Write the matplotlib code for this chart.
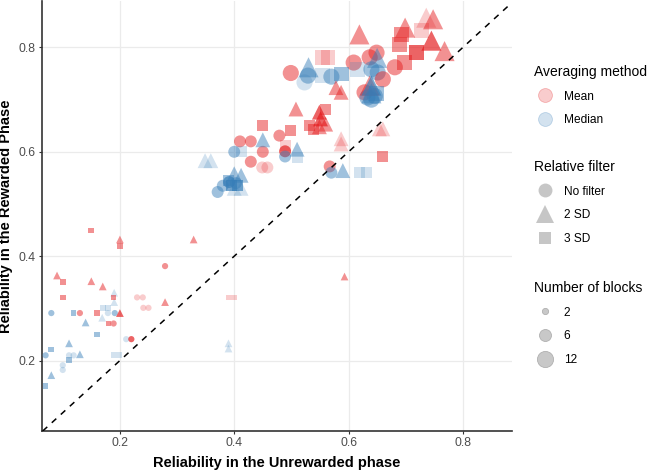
import matplotlib
matplotlib.use("Agg")
import matplotlib.pyplot as plt
from matplotlib.lines import Line2D
from matplotlib.colors import to_rgba
import numpy as np

plt.rcParams['font.family'] = ['Liberation Sans', 'DejaVu Sans']

# ---- data ----
x_unrewarded = [
    0.150, 0.200, 0.200, 0.329, 0.279, 0.090, 0.100, 0.150, 0.170, 0.100,
    0.189, 0.190, 0.190, 0.230, 0.240, 0.241, 0.250, 0.279, 0.390, 0.400,
    0.080, 0.119, 0.130, 0.160, 0.170, 0.179, 0.169, 0.179, 0.191, 0.200,
    0.180, 0.189, 0.140, 0.160, 0.211, 0.220, 0.111, 0.080, 0.070, 0.111,
    0.119, 0.130, 0.189, 0.198, 0.390, 0.390, 0.100, 0.100, 0.111, 0.080,
    0.070,
    0.349, 0.359, 0.400, 0.412, 0.410, 0.429, 0.450, 0.450, 0.450, 0.429,
    0.449, 0.458, 0.479, 0.499, 0.489, 0.489, 0.489, 0.510, 0.510,
    0.371, 0.380, 0.391, 0.403, 0.395, 0.405, 0.400, 0.412, 0.400, 0.412, 0.390,
    0.567, 0.570, 0.590, 0.619, 0.631, 0.593, 0.659, 0.587, 0.587, 0.654, 0.660,
    0.508, 0.560, 0.532, 0.539, 0.549, 0.551, 0.560, 0.549, 0.578, 0.587,
    0.499, 0.530, 0.529, 0.523, 0.555, 0.564, 0.555, 0.587, 0.570, 0.609,
    0.619, 0.637, 0.649, 0.650, 0.640, 0.651, 0.660, 0.681, 0.637, 0.640,
    0.640, 0.628, 0.633, 0.640, 0.646, 0.649, 0.736, 0.748, 0.728, 0.699,
    0.692, 0.689, 0.745, 0.719, 0.698, 0.768, 0.616,
]
y_rewarded = [
    0.449, 0.432, 0.420, 0.432, 0.381, 0.363, 0.350, 0.352, 0.342, 0.321,
    0.321, 0.330, 0.312, 0.321, 0.321, 0.301, 0.301, 0.312, 0.321, 0.321,
    0.291, 0.291, 0.291, 0.291, 0.301, 0.301, 0.282, 0.291, 0.291, 0.291,
    0.271, 0.271, 0.273, 0.250, 0.241, 0.241, 0.233, 0.221, 0.210, 0.210,
    0.210, 0.212, 0.210, 0.210, 0.233, 0.223, 0.191, 0.182, 0.201, 0.172,
    0.151,
    0.583, 0.583, 0.600, 0.600, 0.620, 0.620, 0.623, 0.651, 0.600, 0.581,
    0.570, 0.570, 0.631, 0.641, 0.612, 0.601, 0.591, 0.605, 0.590,
    0.523, 0.535, 0.542, 0.540, 0.535, 0.535, 0.558, 0.555, 0.530, 0.530, 0.545,
    0.572, 0.560, 0.564, 0.561, 0.561, 0.361, 0.591, 0.625, 0.615, 0.644, 0.644,
    0.682, 0.681, 0.651, 0.642, 0.676, 0.663, 0.653, 0.648, 0.723, 0.714,
    0.751, 0.762, 0.746, 0.733, 0.781, 0.781, 0.746, 0.749, 0.744, 0.771,
    0.825, 0.781, 0.790, 0.780, 0.758, 0.752, 0.739, 0.762, 0.727, 0.727,
    0.712, 0.714, 0.704, 0.700, 0.707, 0.711, 0.857, 0.854, 0.832, 0.838,
    0.825, 0.805, 0.813, 0.790, 0.771, 0.793, 0.758,
]
method = (
    ['Mean'] * 11 + ['Median'] * 2 + ['Mean'] * 7 +
    ['Median', 'Median', 'Mean', 'Mean', 'Median', 'Median', 'Median', 'Median', 'Median', 'Mean',
     'Mean', 'Mean', 'Median', 'Median', 'Median', 'Mean', 'Median', 'Median', 'Median', 'Median',
     'Median', 'Median', 'Median', 'Median', 'Median', 'Median', 'Median', 'Median', 'Median', 'Median',
     'Median'] +
    ['Median', 'Median', 'Median', 'Median', 'Mean', 'Mean', 'Median', 'Mean', 'Mean', 'Mean',
     'Mean', 'Mean', 'Mean', 'Mean', 'Mean', 'Mean', 'Median', 'Median', 'Median'] +
    ['Median'] * 11 +
    ['Mean', 'Median', 'Median', 'Median', 'Median', 'Mean', 'Mean', 'Mean', 'Mean', 'Mean', 'Mean'] +
    ['Mean'] * 10 +
    ['Mean', 'Median', 'Median', 'Median', 'Mean', 'Mean', 'Median', 'Median', 'Median', 'Mean',
     'Mean', 'Mean', 'Mean', 'Median', 'Median', 'Median', 'Mean', 'Mean', 'Mean', 'Median',
     'Median', 'Mean', 'Median', 'Median', 'Median', 'Median', 'Mean', 'Mean', 'Mean', 'Mean',
     'Mean', 'Mean', 'Mean', 'Mean', 'Mean', 'Mean', 'Median']
)
rel_filter = [
    '3 SD', '2 SD', '3 SD', '2 SD', 'No filter', '2 SD', '3 SD', '2 SD', '2 SD', '3 SD',
    '3 SD', '2 SD', '2 SD', 'No filter', 'No filter', 'No filter', 'No filter', '2 SD', '3 SD', '3 SD',
    'No filter', '3 SD', 'No filter', '3 SD', '3 SD', '3 SD', '2 SD', 'No filter', 'No filter', '2 SD',
    '3 SD', 'No filter', '2 SD', '3 SD', 'No filter', 'No filter', '2 SD', '3 SD', 'No filter', 'No filter',
    'No filter', '2 SD', '3 SD', '3 SD', '2 SD', '2 SD', 'No filter', 'No filter', '3 SD', '2 SD',
    '3 SD',
    '2 SD', '2 SD', 'No filter', '3 SD', 'No filter', 'No filter', '2 SD', '3 SD', 'No filter', 'No filter',
    'No filter', 'No filter', 'No filter', '3 SD', '3 SD', 'No filter', 'No filter', '2 SD', '3 SD',
    'No filter', 'No filter', 'No filter', 'No filter', '3 SD', '3 SD', '2 SD', '2 SD', '2 SD', '2 SD', '3 SD',
    'No filter', 'No filter', '2 SD', '3 SD', '3 SD', '2 SD', '3 SD', '2 SD', '2 SD', '2 SD', '2 SD',
    '2 SD', '3 SD', '3 SD', '3 SD', '2 SD', '2 SD', '2 SD', '2 SD', '2 SD', '2 SD',
    'No filter', '2 SD', 'No filter', 'No filter', '3 SD', '3 SD', '3 SD', '3 SD', 'No filter', 'No filter',
    '2 SD', 'No filter', 'No filter', '2 SD', 'No filter', 'No filter', 'No filter', 'No filter', '2 SD', '2 SD',
    '2 SD', 'No filter', 'No filter', 'No filter', 'No filter', '3 SD', '2 SD', '2 SD', '3 SD', '2 SD',
    '3 SD', '3 SD', '2 SD', '3 SD', '3 SD', '2 SD', '3 SD',
]
n_blocks = [2] * 51 + [6] * 19 + [6] * 11 + [6, 6, 6, 6, 6, 2, 6, 6, 6, 6, 6] + [6] * 10 + [12] * 37
# transparency level of each point (1 = faint, 2 = medium, 3 = strong)
shade = [
    2, 2, 2, 2, 2, 2, 2, 2, 2, 2,
    2, 1, 1, 1, 1, 1, 1, 2, 1, 1,
    2, 2, 2, 2, 1, 1, 1, 1, 2, 3,
    2, 2, 2, 2, 1, 3, 2, 2, 2, 1,
    1, 2, 1, 1, 1, 1, 1, 1, 2, 2,
    2,
    1, 1, 2, 1, 2, 2, 2, 2, 2, 2,
    1, 1, 2, 2, 1, 3, 2, 2, 1,
    2, 2, 3, 2, 3, 3, 2, 2, 1, 1, 2,
    2, 2, 2, 1, 1, 2, 2, 1, 1, 1, 1,
    2, 2, 2, 2, 3, 3, 2, 2, 2, 2,
    2, 2, 2, 1, 1, 1, 1, 2, 2, 2,
    2, 2, 2, 2, 2, 2, 2, 2, 2, 3,
    2, 2, 2, 2, 2, 2, 1, 2, 1, 2,
    2, 2, 3, 3, 2, 2, 1,
]

method_levels = ['Mean', 'Median']
filter_levels = ['No filter', '2 SD', '3 SD']
block_levels = [2, 6, 12]

# ---- styles ----
method_colors = {'Mean': '#E41A1C', 'Median': '#377EB8'}
shade_alpha = {1: 0.22, 2: 0.48, 3: 0.68}
filter_markers = {'No filter': 'o', '2 SD': '^', '3 SD': 's'}
marker_scale = {'o': 1.0, '^': 1.55, 's': 0.85}
block_size = {2: 20, 6: 74, 12: 135}

fig = plt.figure(figsize=(6.49, 4.71), dpi=100)
ax_left, ax_right, ax_top, ax_bottom = 42, 512, 1, 431
ax = fig.add_axes([ax_left / 649, (471 - ax_bottom) / 471,
                   (ax_right - ax_left) / 649, (ax_bottom - ax_top) / 471])

x = np.array(x_unrewarded)
y = np.array(y_rewarded)
for flt in filter_levels:
    idx = [i for i, f in enumerate(rel_filter) if f == flt]
    mk = filter_markers[flt]
    cols = [to_rgba(method_colors[method[i]], shade_alpha[shade[i]]) for i in idx]
    sizes = [block_size[n_blocks[i]] * marker_scale[mk] for i in idx]
    ax.scatter(x[idx], y[idx], s=sizes, c=cols, marker=mk, linewidths=0, zorder=3)

ax.axline((0, 0), slope=1, color='black', linestyle=(0, (4, 4)), linewidth=1.1, zorder=4)

ax.set_xlim(0.0637, 0.886)
ax.set_ylim(0.065, 0.889)
ticks = [0.2, 0.4, 0.6, 0.8]
ax.set_xticks(ticks)
ax.set_yticks(ticks)
ax.set_xticklabels(['0.2', '0.4', '0.6', '0.8'])
ax.set_yticklabels(['0.2', '0.4', '0.6', '0.8'])
ax.grid(True, color='#EBEBEB', linewidth=0.9, zorder=0)
ax.set_axisbelow(True)
for sp in ['top', 'right']:
    ax.spines[sp].set_visible(False)
for sp in ['left', 'bottom']:
    ax.spines[sp].set_color('#333333')
    ax.spines[sp].set_linewidth(1.2)
ax.tick_params(axis='both', length=2.4, width=0.8, color='#333333', labelsize=8.8,
               labelcolor='#4D4D4D', pad=2.2)
ax.set_xlabel('Reliability in the Unrewarded phase', fontsize=10.5, fontweight='bold', labelpad=5)
ax.set_ylabel('Reliability in the Rewarded Phase', fontsize=10.5, fontweight='bold')
ax.yaxis.set_label_coords(-0.062, 0.5)

# ---- legends ----
LEG_FS = 8.6


def make_legend(handles, labels, title, top_px):
    return fig.legend(handles, labels, title=title, loc='upper left',
                      bbox_to_anchor=(530 / 649, 1 - top_px / 471),
                      frameon=False, fontsize=LEG_FS, title_fontsize=10,
                      alignment='left', handletextpad=0.67, labelspacing=1.0,
                      handlelength=1.84, borderaxespad=0, borderpad=0.3)


h1 = [Line2D([], [], marker='o', linestyle='none', markersize=10, markeredgewidth=0.6,
             markerfacecolor=to_rgba(method_colors[m], 0.22),
             markeredgecolor=to_rgba(method_colors[m], 0.28)) for m in method_levels]
make_legend(h1, method_levels, 'Averaging method', 61)

h2 = [Line2D([], [], marker=filter_markers[f], linestyle='none',
             markersize=10 * np.sqrt(marker_scale[filter_markers[f]]),
             markeredgewidth=0, markerfacecolor='#C6C6C6') for f in filter_levels]
make_legend(h2, filter_levels, 'Relative filter', 156)

h3 = [Line2D([], [], marker='o', linestyle='none', markersize=np.sqrt(block_size[b]),
             markeredgewidth=0.6, markerfacecolor='#C8C8C8', markeredgecolor='#B0B0B0')
      for b in block_levels]
make_legend(h3, [str(b) for b in block_levels], 'Number of blocks', 277)

fig.savefig('out.png', dpi=100)
